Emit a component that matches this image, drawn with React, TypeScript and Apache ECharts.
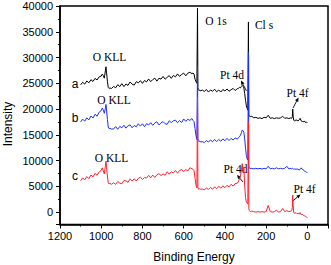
import React, { useEffect, useRef } from "react";
import * as echarts from "echarts";

// Binding energy grid (eV)
const energy: number[] = [
  1100, 1090, 1080, 1070, 1060, 1050, 1040, 1030, 1020, 1010, 1000,
  995, 990, 985, 980, 977, 974, 970, 966, 962, 958, 950,
  940, 930, 920, 910, 900, 890, 880, 870, 860, 850, 840, 830, 820, 810, 800, 790, 780, 770, 760, 750, 740, 730, 720, 710, 700, 690, 680, 670, 660, 650, 640, 630, 620, 610, 600, 590, 580, 570, 560,
  555, 550, 545, 540, 536, 533, 531, 529, 526, 522, 518, 510,
  500, 490, 480, 470, 460, 450, 440, 430, 420, 410, 400, 390, 380, 370, 360, 350, 340,
  335, 330, 325, 320, 316, 312, 308, 304, 300, 296, 292, 289, 286, 284, 282, 279, 275, 270,
  260, 250, 240, 230, 220, 210, 200, 190, 180, 170, 160, 150, 140, 130, 120, 110, 100, 90, 80,
  76, 73, 71, 69, 66, 62, 55, 50, 45, 40, 35, 30, 25, 20, 15, 10, 5, 0,
];

// Spectrum a (black)
const seriesA: number[] = [
  24700, 25200, 24850, 25450, 25100, 25700, 25350, 25950, 25650, 26250, 26400,
  26800, 26500, 26000, 27400, 28200, 27000, 25400, 24200, 24000, 24100, 24000,
  24400, 24120, 24740, 24360, 24930, 24350, 24870, 24590, 25260, 24830, 24650, 25320, 25090, 25510, 24980, 25550, 25270, 25840, 25310, 25730, 26000, 25420, 25990, 25810, 26330, 25800, 26170, 26490, 25960, 26530, 26250, 26820, 26340, 26710, 26980, 26450, 26970, 27140, 26860,
  27000, 26800, 25800, 25300, 25000, 39600, 24200, 23800, 23600, 23700, 23500, 23700,
  23400, 23800, 23300, 23700, 23450, 23850, 23350, 23700, 23300, 23800, 23500, 23900, 23450, 23750, 24000, 23600, 23950,
  24000, 24200, 24100, 24400, 24600, 24400, 24100, 23000, 21700, 20600, 20100, 19800, 36900, 18800, 18600, 18700, 18500, 18600,
  18300, 18400, 18200, 18300, 18150, 18400, 18300, 18800, 18200, 18300, 18150, 18300, 18200, 18300, 18600, 18200, 18300, 18150, 18300,
  18200, 18500, 20000, 18600, 17800, 17700, 17900, 17800, 17700, 17900, 18200, 17700, 17600, 17500, 17700, 17400, 17500, 17300,
];

// Spectrum b (blue)
const seriesB: number[] = [
  17500, 18050, 17650, 18300, 17900, 18650, 18250, 19000, 18600, 19400, 19700,
  20200, 19800, 19200, 20100, 20900, 19800, 18000, 16500, 16200, 16300, 16100,
  16150, 16590, 16080, 16630, 16370, 16860, 16300, 16740, 16940, 16380, 16820, 16560, 17150, 16700, 17140, 16580, 17170, 16910, 17360, 16850, 17290, 17530, 16920, 17320, 17560, 17150, 17040, 17730, 17380, 17720, 17860, 17350, 17740, 17390, 18080, 17620, 18010, 17800, 18150,
  17800, 17600, 16200, 14800, 14100, 28200, 14300, 13900, 13700, 13800, 13600, 13700,
  13500, 13900, 13600, 14000, 13650, 14100, 13700, 14100, 13750, 14200, 13850, 14300, 13900, 14300, 14000, 14400, 14150,
  14400, 14600, 14900, 15400, 15900, 15800, 15500, 14200, 12400, 11000, 10300, 10100, 31000, 8800, 8500, 8600, 8400, 8500,
  8400, 8500, 8400, 8500, 8350, 8500, 8400, 8900, 8400, 8500, 8400, 8600, 8400, 8500, 8400, 8500, 8900, 8400, 8500,
  8400, 8500, 8600, 8400, 8300, 8400, 8300, 8400, 8300, 8200, 8300, 8600, 8300, 8200, 8000, 7900, 7800, 7600,
];

// Spectrum c (red)
const seriesC: number[] = [
  6100, 6650, 6250, 6900, 6500, 7200, 6850, 7500, 7150, 7800, 8100,
  8600, 8000, 7400, 8900, 9900, 8600, 7000, 5700, 5450, 5600, 5400,
  5700, 5376, 5952, 5628, 5504, 6130, 6056, 5782, 6458, 6034, 6460, 6036, 6562, 6788, 6314, 6740, 6616, 7142, 6668, 7194, 6720, 7246, 7472, 7098, 7424, 7150, 7826, 7352, 7828, 7604, 8080, 7556, 8082, 8258, 7884, 8260, 7986, 8612, 8438,
  8300, 8100, 6600, 5200, 4700, 22300, 4800, 4500, 4400, 4600, 4400, 4500,
  4300, 4700, 4400, 4800, 4450, 4900, 4550, 5000, 4650, 5100, 4750, 5200, 4900, 5400, 5050, 5550, 5600,
  5900, 6400, 6900, 8200, 9400, 7700, 8600, 5000, 2800, 2000, 1700, 1600, 17500, 800, 300, 200, 100, 200,
  100, 0, 100, 0, 100, 0, 100, 1300, 100, 0, 100, 400, 0, 100, 700, 100, 300, 100, 200,
  300, 900, 3300, 1200, -100, -200, -100, -300, -200, -400, -100, -500, -400, -600, -700, -800, -900, -1100,
];

const curveNames = ["a", "b", "c"];
const curveColors = ["#000000", "#1a2eff", "#ff1f2f"];

const xAxisMin = -100;
const xAxisMax = 1200;
const yAxisMin = -2400;
const yAxisMax = 40000;

function arrow(x1: number, y1: number, x2: number, y2: number) {
  const dx = x2 - x1;
  const dy = y2 - y1;
  const L = Math.hypot(dx, dy);
  const ux = dx / L;
  const uy = dy / L;
  const hl = 4;
  const hw = 1.8;
  const bx = x2 - ux * hl;
  const by = y2 - uy * hl;
  const px = -uy;
  const py = ux;
  return [
    { type: "line", shape: { x1, y1, x2: bx, y2: by }, style: { stroke: "#000", lineWidth: 0.9 } },
    {
      type: "polygon",
      shape: { points: [[x2, y2], [bx + px * hw, by + py * hw], [bx - px * hw, by - py * hw]] },
      style: { fill: "#000" },
    },
  ];
}

function label(text: string, x: number, y: number, serif = true, size = 11.5) {
  return {
    type: "text",
    x,
    y,
    style: {
      text,
      fontSize: size,
      fontFamily: serif ? "Liberation Serif" : "Liberation Sans",
      fill: "#000",
      align: "center",
      verticalAlign: "middle",
      textAlign: "center",
      textVerticalAlign: "middle",
    },
  };
}

export default function App() {
  const ref = useRef<HTMLDivElement>(null);
  useEffect(() => {
    if (!ref.current) return;
    const chart = echarts.init(ref.current, undefined, { renderer: "svg" });
    const series = [seriesA, seriesB, seriesC].map((vals, i) => ({
      name: curveNames[i],
      type: "line",
      data: energy.map((e, j) => [e, vals[j]]),
      showSymbol: false,
      symbol: "none",
      lineStyle: { color: curveColors[i], width: 1 },
      itemStyle: { color: curveColors[i] },
      z: 2 + i,
    }));
    const axisCommon = {
      axisLine: { show: true, onZero: false, lineStyle: { color: "#000", width: 1.5 } },
      axisTick: { show: true, inside: false, length: 4, lineStyle: { color: "#000", width: 1 } },
      minorTick: { show: true, splitNumber: 2, length: 2, lineStyle: { color: "#000", width: 1 } },
      splitLine: { show: false },
      minorSplitLine: { show: false },
    };
    chart.setOption({
      animation: false,
      backgroundColor: "#fff",
      grid: {
        left: 60,
        top: 6,
        right: 3,
        bottom: 40.5,
        show: true,
        borderColor: "#000",
        borderWidth: 1.5,
        containLabel: false,
        outerBoundsMode: "none",
      },
      xAxis: {
        type: "value",
        inverse: true,
        min: xAxisMin,
        max: xAxisMax,
        splitNumber: 6,
        ...axisCommon,
        axisLabel: {
          color: "#000",
          fontSize: 11,
          fontFamily: "Liberation Sans",
          margin: 6,
          showMinLabel: false,
          formatter: (v: number) => (v < 0 ? "" : String(v)),
        },
        name: "Binding Energy",
        nameLocation: "middle",
        nameGap: 26,
        nameTextStyle: { color: "#000", fontSize: 12, fontFamily: "Liberation Sans" },
      },
      yAxis: {
        type: "value",
        min: yAxisMin,
        max: yAxisMax,
        splitNumber: 8,
        ...axisCommon,
        axisLabel: {
          color: "#000",
          fontSize: 11,
          fontFamily: "Liberation Sans",
          margin: 7,
          showMinLabel: false,
          formatter: (v: number) => (v < 0 ? "" : String(v)),
        },
      },
      series,
      graphic: [
        {
          type: "text",
          x: 8,
          y: 124,
          rotation: Math.PI / 2,
          style: {
            text: "Intensity",
            fontSize: 12,
            fontFamily: "Liberation Sans",
            fill: "#000",
            align: "center",
            verticalAlign: "middle",
            textAlign: "center",
            textVerticalAlign: "middle",
          },
        },
        label("a", 75, 83.5, false, 12),
        label("b", 75, 118, false, 12),
        label("c", 75, 176, false, 12),
        label("O KLL", 109.5, 56.5),
        label("O KLL", 114, 99.5),
        label("O KLL", 111.5, 158),
        label("O 1s", 216, 21),
        label("Cl s", 264, 25),
        label("Pt 4d", 232, 74.5),
        label("Pt 4d", 235.5, 169),
        label("Pt 4f", 297.5, 92.5),
        label("Pt 4f", 304.5, 189),
        ...arrow(246.5, 91, 241, 80.5),
        ...arrow(243, 182, 237, 175),
        ...arrow(293, 108, 298.5, 97.5),
        ...arrow(292.7, 201, 300.5, 194.5),
      ],
    });
    return () => chart.dispose();
  }, []);
  return (
    <div
      ref={ref}
      style={{ position: "absolute", left: 0, top: 0, width: 331, height: 265 }}
    />
  );
}
